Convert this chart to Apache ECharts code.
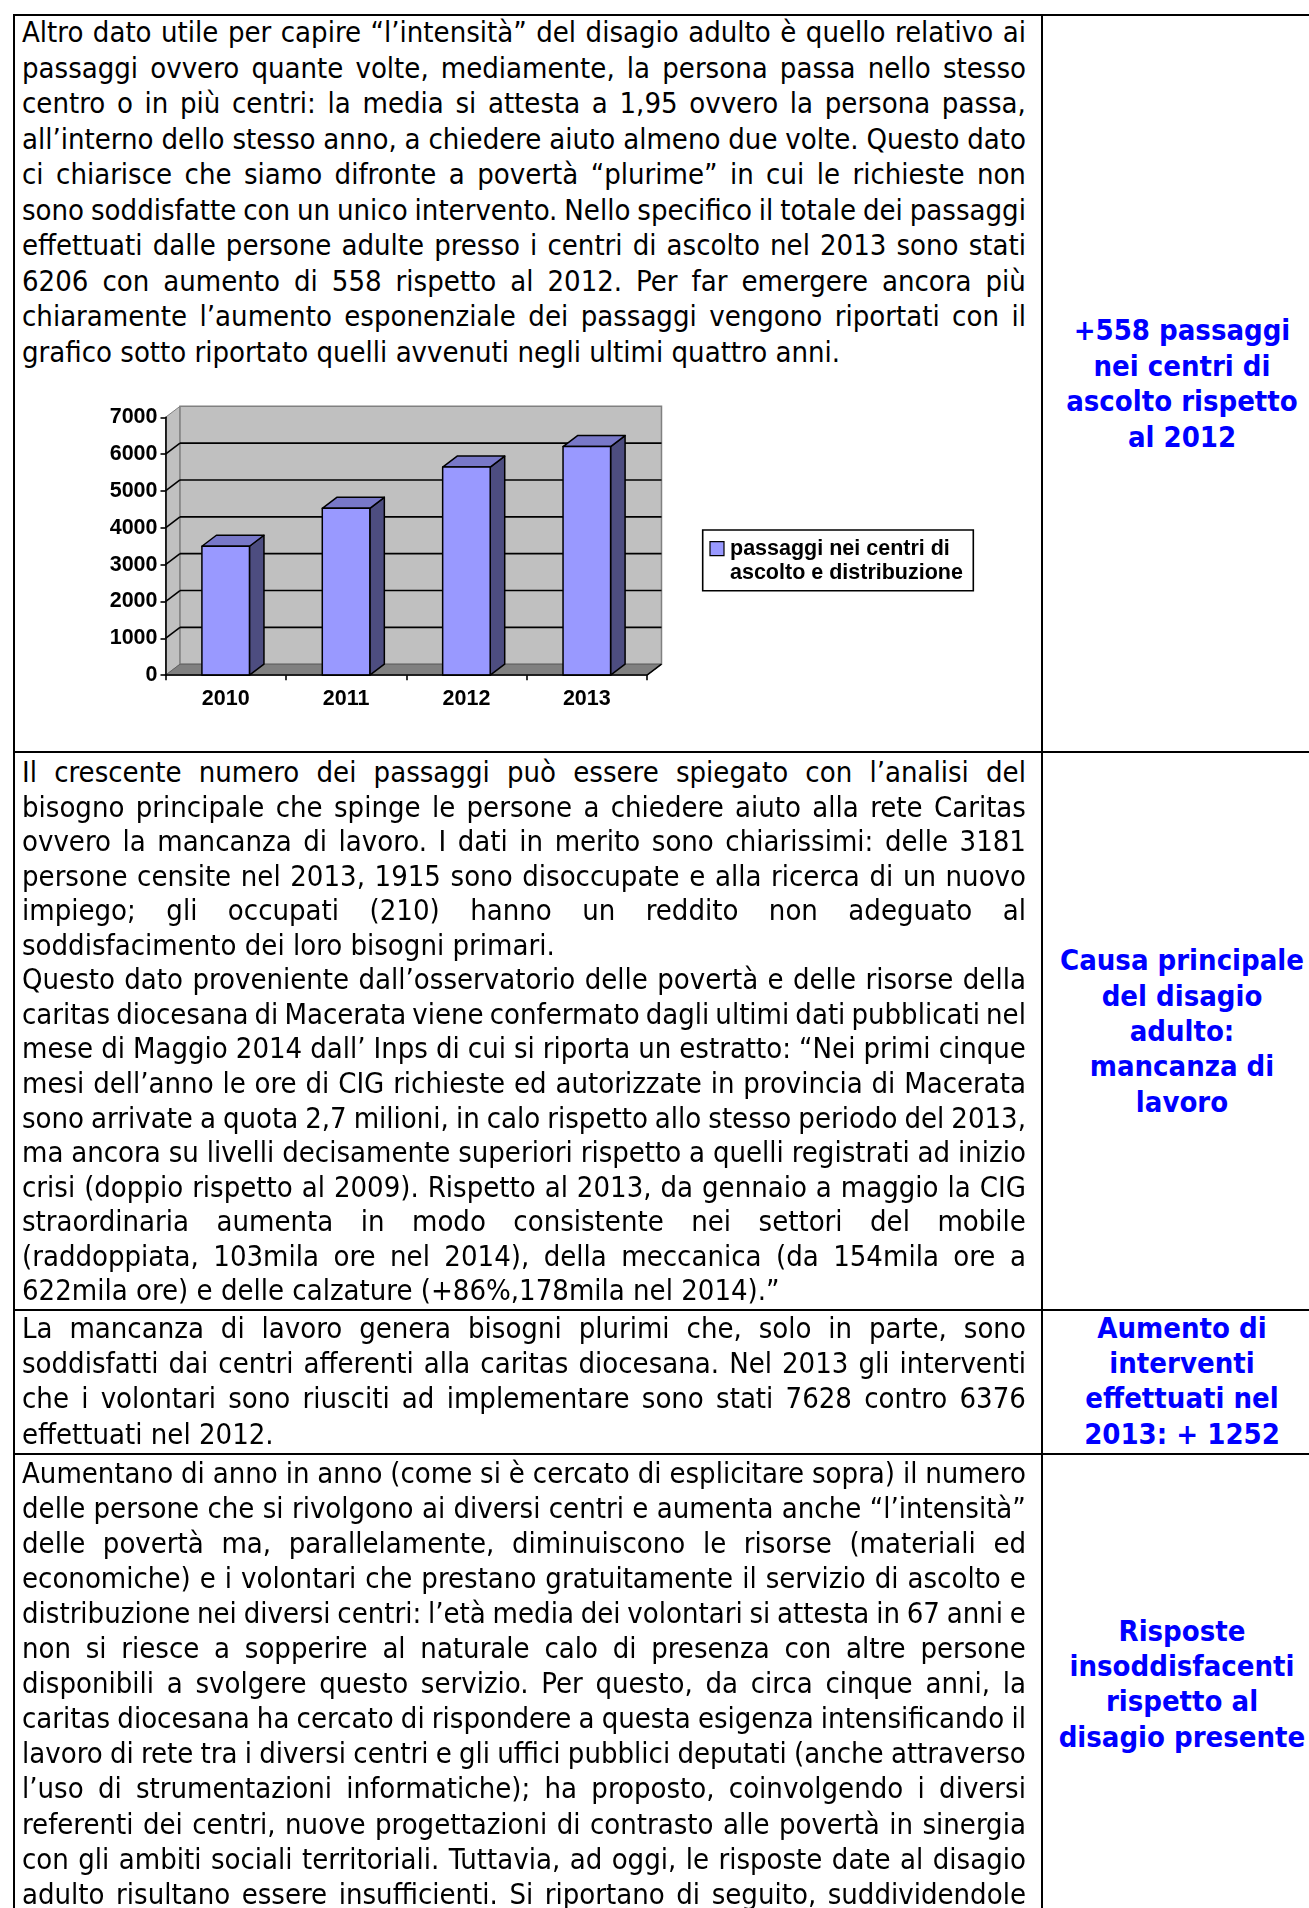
<!DOCTYPE html>
<html>
<head>
<meta charset="utf-8">
<script src="https://cdn.jsdelivr.net/npm/echarts@6/dist/echarts.min.js"></script>
<style>
html,body{margin:0;padding:0;background:#fff;}
#page{position:relative;width:1309px;height:1908px;overflow:hidden;background:#fff;}
.ln{position:absolute;left:22px;width:1004px;white-space:nowrap;font-family:"DejaVu Sans Condensed","DejaVu Sans",sans-serif;font-stretch:condensed;font-size:29px;color:#000;}
.j{display:flex;justify-content:space-between;}
.side{position:absolute;left:1042px;width:280px;text-align:center;white-space:nowrap;font-family:"DejaVu Sans Condensed","DejaVu Sans",sans-serif;font-stretch:condensed;font-weight:bold;font-size:29px;color:#0000FF;}
.bl{position:absolute;background:#000;}
#chart{position:absolute;left:0;top:380px;width:1040px;height:370px;}
</style>
</head>
<body>
<div id="page">
  <div id="chart"></div>
</div>
<script>
// ---------- chart data ----------
const categories = ['2010', '2011', '2012', '2013'];
const passaggi = [3500, 4530, 5648, 6206];
const yTicks = [0, 1000, 2000, 3000, 4000, 5000, 6000, 7000];
const seriesName = 'passaggi nei centri di ascolto e distribuzione';
const legendLines = ['passaggi nei centri di', 'ascolto e distribuzione'];

// ---------- document text ----------
const row1Lines = [
  'Altro dato utile per capire “l’intensità” del disagio adulto è quello relativo ai',
  'passaggi ovvero quante volte, mediamente, la persona passa nello stesso',
  'centro o in più centri: la media si attesta a 1,95 ovvero la persona passa,',
  'all’interno dello stesso anno, a chiedere aiuto almeno due volte. Questo dato',
  'ci chiarisce che siamo difronte a povertà “plurime” in cui le richieste non',
  'sono soddisfatte con un unico intervento. Nello specifico il totale dei passaggi',
  'effettuati dalle persone adulte presso i centri di ascolto nel 2013 sono stati',
  '6206 con aumento di 558 rispetto al 2012. Per far emergere ancora più',
  'chiaramente l’aumento esponenziale dei passaggi vengono riportati con il',
  'grafico sotto riportato quelli avvenuti negli ultimi quattro anni.'
];
const row2Lines = [
  'Il crescente numero dei passaggi può essere spiegato con l’analisi del',
  'bisogno principale che spinge le persone a chiedere aiuto alla rete Caritas',
  'ovvero la mancanza di lavoro. I dati in merito sono chiarissimi: delle 3181',
  'persone censite nel 2013, 1915 sono disoccupate e alla ricerca di un nuovo',
  'impiego; gli occupati (210) hanno un reddito non adeguato al',
  'soddisfacimento dei loro bisogni primari.',
  'Questo dato proveniente dall’osservatorio delle povertà e delle risorse della',
  'caritas diocesana di Macerata viene confermato dagli ultimi dati pubblicati nel',
  'mese di Maggio 2014 dall’ Inps di cui si riporta un estratto: “Nei primi cinque',
  'mesi dell’anno le ore di CIG richieste ed autorizzate in provincia di Macerata',
  'sono arrivate a quota 2,7 milioni, in calo rispetto allo stesso periodo del 2013,',
  'ma ancora su livelli decisamente superiori rispetto a quelli registrati ad inizio',
  'crisi (doppio rispetto al 2009). Rispetto al 2013, da gennaio a maggio la CIG',
  'straordinaria aumenta in modo consistente nei settori del mobile',
  '(raddoppiata, 103mila ore nel 2014), della meccanica (da 154mila ore a',
  '622mila ore) e delle calzature (+86%,178mila nel 2014).”'
];
const row3Lines = [
  'La mancanza di lavoro genera bisogni plurimi che, solo in parte, sono',
  'soddisfatti dai centri afferenti alla caritas diocesana. Nel 2013 gli interventi',
  'che i volontari sono riusciti ad implementare sono stati 7628 contro 6376',
  'effettuati nel 2012.'
];
const row4Lines = [
  'Aumentano di anno in anno (come si è cercato di esplicitare sopra) il numero',
  'delle persone che si rivolgono ai diversi centri e aumenta anche “l’intensità”',
  'delle povertà ma, parallelamente, diminuiscono le risorse (materiali ed',
  'economiche) e i volontari che prestano gratuitamente il servizio di ascolto e',
  'distribuzione nei diversi centri: l’età media dei volontari si attesta in 67 anni e',
  'non si riesce a sopperire al naturale calo di presenza con altre persone',
  'disponibili a svolgere questo servizio. Per questo, da circa cinque anni, la',
  'caritas diocesana ha cercato di rispondere a questa esigenza intensificando il',
  'lavoro di rete tra i diversi centri e gli uffici pubblici deputati (anche attraverso',
  'l’uso di strumentazioni informatiche); ha proposto, coinvolgendo i diversi',
  'referenti dei centri, nuove progettazioni di contrasto alle povertà in sinergia',
  'con gli ambiti sociali territoriali. Tuttavia, ad oggi, le risposte date al disagio',
  'adulto risultano essere insufficienti. Si riportano di seguito, suddividendole'
];
const side1 = ['+558 passaggi', 'nei centri di', 'ascolto rispetto', 'al 2012'];
const side2 = ['Causa principale', 'del disagio', 'adulto:', 'mancanza di', 'lavoro'];
const side3 = ['Aumento di', 'interventi', 'effettuati nel', '2013: + 1252'];
const side4 = ['Risposte', 'insoddisfacenti', 'rispetto al', 'disagio presente'];

const page = document.getElementById('page');

function addBar(l, t, w, h) {
  const d = document.createElement('div');
  d.className = 'bl';
  d.style.left = l + 'px'; d.style.top = t + 'px';
  d.style.width = w + 'px'; d.style.height = h + 'px';
  page.appendChild(d);
}
// table borders
addBar(13, 14, 1296, 2);
addBar(13, 14, 2, 1894);
addBar(1041, 14, 2, 1894);
addBar(13, 751, 1296, 2);
addBar(13, 1309, 1296, 2);
addBar(13, 1453, 1296, 2);

function addLines(lines, firstCenter, lh, lastSet) {
  lines.forEach((txt, i) => {
    const d = document.createElement('div');
    d.className = 'ln';
    const c = firstCenter + i * lh;
    d.style.top = (c - lh / 2) + 'px';
    d.style.height = lh + 'px';
    d.style.lineHeight = lh + 'px';
    if (lastSet.includes(i)) {
      d.textContent = txt;
    } else {
      d.classList.add('j');
      txt.split(' ').forEach(w => {
        const s = document.createElement('span');
        s.textContent = w;
        d.appendChild(s);
      });
    }
    page.appendChild(d);
  });
}
addLines(row1Lines, 32.8, 35.55, [9]);
addLines(row2Lines, 772.3, 34.55, [5, 15]);
addLines(row3Lines, 1328.5, 35.3, [3]);
addLines(row4Lines, 1473.3, 35.08, []);

function addSide(lines, firstCenter, lh) {
  lines.forEach((txt, i) => {
    const d = document.createElement('div');
    d.className = 'side';
    const c = firstCenter + i * lh;
    d.style.top = (c - lh / 2) + 'px';
    d.style.height = lh + 'px';
    d.style.lineHeight = lh + 'px';
    d.textContent = txt;
    page.appendChild(d);
  });
}
addSide(side1, 331, 35.6);
addSide(side2, 961, 35.3);
addSide(side3, 1328.5, 35.3);
addSide(side4, 1631.5, 35.3);

// ---------- chart ----------
const DX = 14.5, DY = -11;   // 3D depth offset (style)
const chart = echarts.init(document.getElementById('chart'), null, {renderer: 'canvas'});
const FONT = 'Liberation Sans, Arial, sans-serif';

function wallsRender(params, api) {
  const cs = params.coordSys;
  const x = cs.x, y = cs.y, w = cs.width, h = cs.height;
  return {
    type: 'group',
    children: [
      { type: 'polygon', shape: { points: [[x, y], [x + DX, y + DY], [x + DX, y + h + DY], [x, y + h]] },
        style: { fill: '#C0C0C0', stroke: '#808080', lineWidth: 1 } },
      { type: 'rect', shape: { x: x + DX, y: y + DY, width: w, height: h },
        style: { fill: '#C0C0C0', stroke: '#808080', lineWidth: 1.5 } },
      { type: 'polygon', shape: { points: [[x, y + h], [x + DX, y + h + DY], [x + w + DX, y + h + DY], [x + w, y + h]] },
        style: { fill: '#808080', stroke: '#606060', lineWidth: 1 } },
      { type: 'line', shape: { x1: x + w, y1: y + h, x2: x + w + DX, y2: y + h + DY },
        style: { stroke: '#000', lineWidth: 1.5 } }
    ]
  };
}

function gridRender(params, api) {
  const v = api.value(1);
  if (v <= yTicks[0] || v >= yTicks[yTicks.length - 1]) return null;
  const cs = params.coordSys;
  const p = api.coord([0, v]);
  const x = cs.x, w = cs.width, py = p[1];
  return {
    type: 'group',
    children: [
      { type: 'line', shape: { x1: x, y1: py, x2: x + DX, y2: py + DY }, style: { stroke: '#000', lineWidth: 1.6 } },
      { type: 'line', shape: { x1: x + DX, y1: py + DY, x2: x + w + DX, y2: py + DY }, style: { stroke: '#000', lineWidth: 1.6 } }
    ]
  };
}

function barRender(params, api) {
  const idx = api.value(0), val = api.value(1);
  const top = api.coord([idx, val]);
  const bot = api.coord([idx, 0]);
  const bw = api.size([1, 0])[0] * 0.395;
  const x0 = top[0] - bw / 2, x1 = top[0] + bw / 2, yt = top[1], yb = bot[1];
  const st = { stroke: '#000', lineWidth: 1.5, lineJoin: 'round' };
  return {
    type: 'group',
    children: [
      { type: 'polygon', shape: { points: [[x1, yt], [x1 + DX, yt + DY], [x1 + DX, yb + DY], [x1, yb]] },
        style: Object.assign({ fill: '#4D4D80' }, st) },
      { type: 'polygon', shape: { points: [[x0, yt], [x0 + DX, yt + DY], [x1 + DX, yt + DY], [x1, yt]] },
        style: Object.assign({ fill: '#7878C8' }, st) },
      { type: 'rect', shape: { x: x0, y: yt, width: bw, height: yb - yt },
        style: Object.assign({ fill: '#9999FF' }, st) }
    ]
  };
}

chart.setOption({
  animation: false,
  textStyle: { fontFamily: FONT },
  grid: { left: 165.5, top: 37.3, width: 481.5, height: 257.9, outerBoundsMode: 'none' },
  xAxis: {
    type: 'category',
    data: categories,
    z: 5,
    axisLine: { show: true, lineStyle: { color: '#000', width: 1.6 } },
    axisTick: { show: true, length: 5, lineStyle: { color: '#000', width: 1.6 } },
    axisLabel: { color: '#000', fontWeight: 'bold', fontSize: 21.5, fontFamily: FONT, margin: 13 },
    splitLine: { show: false }
  },
  yAxis: {
    type: 'value',
    min: 0, max: 7000, interval: 1000,
    z: 5,
    axisLine: { show: true, lineStyle: { color: '#000', width: 1.6 } },
    axisTick: { show: true, length: 5, lineStyle: { color: '#000', width: 1.6 } },
    axisLabel: { color: '#000', fontWeight: 'bold', fontSize: 21.5, fontFamily: FONT, margin: 8,
                 formatter: v => String(v) },
    splitLine: { show: false }
  },
  graphic: [
    { type: 'rect', shape: { x: 702.7, y: 150, width: 270.6, height: 60.7 },
      style: { fill: '#fff', stroke: '#000', lineWidth: 1.6 }, z: 10 },
    { type: 'rect', shape: { x: 710, y: 161.7, width: 14, height: 14 },
      style: { fill: '#9999FF', stroke: '#000', lineWidth: 1.2 }, z: 11 },
    { type: 'text', x: 730, y: 169.4, z: 11,
      style: { text: legendLines[0], fill: '#000', font: 'bold 21.5px ' + FONT, verticalAlign: 'middle', align: 'left' } },
    { type: 'text', x: 730, y: 193.4, z: 11,
      style: { text: legendLines[1], fill: '#000', font: 'bold 21.5px ' + FONT, verticalAlign: 'middle', align: 'left' } }
  ],
  series: [
    { type: 'custom', name: 'walls', z: 1, clip: false, silent: true,
      renderItem: wallsRender, data: [[0, 0]] },
    { type: 'custom', name: 'gridlines', z: 2, clip: false, silent: true,
      renderItem: gridRender, data: yTicks.map(v => [0, v]) },
    { type: 'custom', name: seriesName, z: 3, clip: false,
      renderItem: barRender, encode: { x: 0, y: 1 },
      data: categories.map((c, i) => [i, passaggi[i]]) }
  ]
});
</script>
</body>
</html>
